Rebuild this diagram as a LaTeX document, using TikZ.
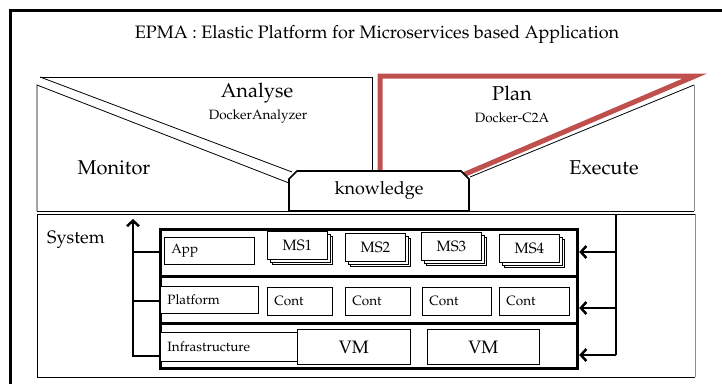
\documentclass[tikz,border=0pt]{standalone}
\usepackage[T1]{fontenc}
\usepackage{mathpazo}
\usetikzlibrary{arrows.meta,shapes.misc,shadows}
\definecolor{planred}{HTML}{C0504D}
\definecolor{edgegray}{HTML}{8C8C8C}
\newcommand{\sizept}[1]{\fontsize{#1}{#1}\selectfont}
\begin{document}
\begin{tikzpicture}[x=1pt,y=-1pt,
  frameline/.style={line width=3pt},
  thinline/.style={line width=0.8pt},
  boldline/.style={line width=3.2pt},
  flow/.style={line width=2.5pt},
  tip/.style={-{Straight Barb[length=5.5pt,width=12pt]}},
  heading/.style={font=\sizept{20}, inner sep=0pt},
  subheading/.style={font=\sizept{13.5}, inner sep=0pt},
  lbox/.style={draw, thinline, fill=white, anchor=north west, inner xsep=7pt,
    inner ysep=0pt, align=left, font=\sizept{13.5}},
  msbox/.style={draw, thinline, fill=white, anchor=north west, inner sep=0pt,
    minimum width=60pt, minimum height=28pt, font=\sizept{15},
    double copy shadow={shadow xshift=2.5pt, shadow yshift=-2.5pt}},
  vmbox/.style={draw, thinline, fill=white, anchor=north west, inner sep=0pt,
    minimum height=35pt, font=\sizept{18}},
  layer/.style={draw, boldline, anchor=north west, inner sep=0pt, minimum width=417pt},
]
\useasboundingbox (0,0) rectangle (722,383);

% outer frame (runs off the page to the right and bottom)
\draw[frameline] (10,395) -- (10,10) -- (735,10);
\node[font=\sizept{18}] (title) at (377,35) {EPMA : Elastic Platform for Microservices based Application};

% ---- MAPE-K loop ----
% Monitor / Analyse panel
\coordinate (anaTL) at (40,77);
\coordinate (anaTR) at (372,77);
\coordinate (monTL) at (37,85);
\coordinate (monBL) at (37,211);
\draw[thinline] (anaTL) -- (anaTR) -- (372,172);
\draw[thinline] (anaTL) -- (292,172);
\draw[thinline] (monBL) -- (monTL) -- (289,183);
% Plan (highlighted) / Execute panel
\draw[planred, line width=5pt, line join=miter] (380,175) -- (380,76) -- (695,76) -- (463,175);
\coordinate (exeTR) at (694,85);
\draw[thinline] (470,177) -- (exeTR);
\draw[thinline, edgegray] (exeTR) -- (694,211);
\draw[thinline] (monBL) -- (694,211);

\node[draw, fill=white, line width=1.6pt, chamfered rectangle,
  chamfered rectangle corners={north west,north east},
  chamfered rectangle xsep=4pt, chamfered rectangle ysep=4pt,
  minimum width=180pt, minimum height=40pt, inner sep=0pt,
  font=\sizept{18}] (kn) at (379,191) {knowledge};

\node[heading] (analyse) at (257,93) {Analyse};
\node[subheading] (dana) at (258,117) {DockerAnalyzer};
\node[heading] (monitor) at (114,168) {Monitor};
\node[heading] (plan) at (512,93) {Plan};
\node[subheading] (dc2a) at (512,118) {Docker-C2A};
\node[heading] (execute) at (604,168) {Execute};

% ---- managed system ----
\draw[thinline] (695,214) -- (37,214) -- (37,377) -- (695,377);
\draw[thinline, edgegray] (695,214) -- (695,377);
\node[font=\sizept{18}, anchor=west, inner sep=0pt] (system) at (47,240) {System};

% layer stack
\node[layer, minimum height=47pt] (appRow) at (159,228) {};
\node[layer, minimum height=47pt] (platRow) at (159,275) {};
\node[layer, minimum height=45pt] (infraRow) at (159,322) {};

% application layer
\node[lbox, text width=76pt, minimum height=27pt] (app) at (164,237) {App};
\node[msbox] (ms1) at (267,231) {MS1};
\node[msbox] (ms2) at (345,233) {MS2};
\node[msbox] (ms3) at (421,232) {MS3};
\node[msbox] (ms4) at (499,234) {MS4};

% platform layer
\node[lbox, text width=84pt, minimum height=27pt] (plat) at (160,286) {Platform};
\node[lbox, text width=51pt, minimum height=28pt] (cont1) at (267,287) {Cont};
\node[lbox, text width=51pt, minimum height=28pt] (cont2) at (345,287) {Cont};
\node[lbox, text width=55pt, minimum height=28pt] (cont3) at (422,287) {Cont};
\node[lbox, text width=56pt, minimum height=28pt] (cont4) at (499,287) {Cont};

% infrastructure layer
\node[lbox, text width=126pt, minimum height=29pt] (infra) at (160,332) {Infrastructure};
\node[vmbox, minimum width=113pt] (vm1) at (297,329) {VM};
\node[vmbox, minimum width=112pt] (vm2) at (427,329) {VM};

% monitoring flow (up) and execution flow (into the layers)
\coordinate (monTop) at (133,219);
\coordinate (monBot) at (133,356);
\draw[flow, tip, line join=miter] (appRow.west |- monBot) -- (monBot) -- (monTop);
\draw[flow] (appRow.west |- 0,252) -- (133,252);
\draw[flow] (appRow.west |- 0,301) -- (133,301);

\coordinate (exeTop) at (616,215);
\coordinate (exeBot) at (616,355);
\draw[flow] (exeTop) -- (exeBot);
\draw[flow, tip] (616,252) -- (appRow.east |- 0,252);
\draw[flow, tip] (616,308) -- (appRow.east |- 0,308);
\draw[flow, tip] (exeBot) -- (appRow.east |- exeBot);
\end{tikzpicture}
\end{document}
